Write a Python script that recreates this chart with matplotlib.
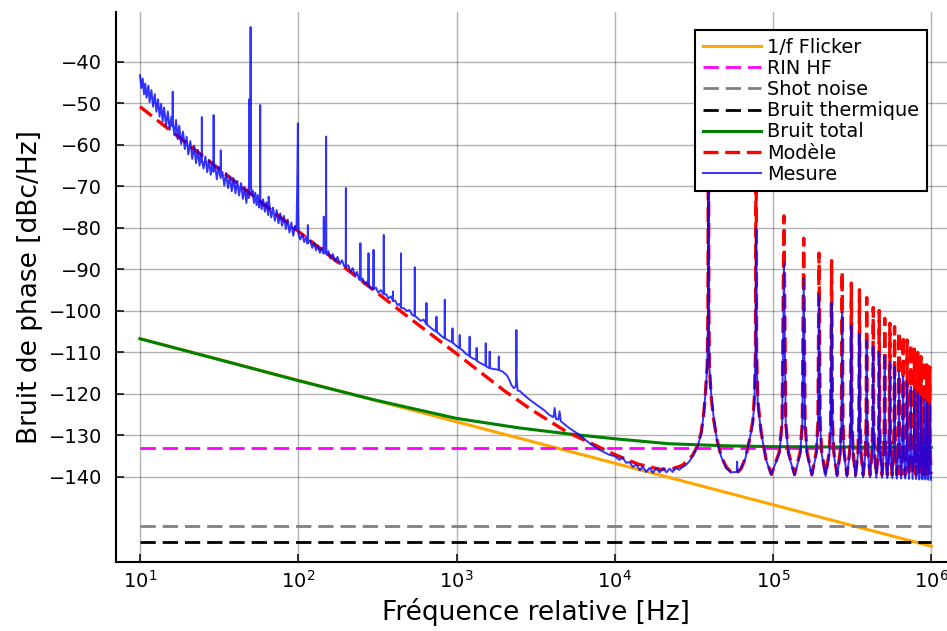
import matplotlib.pyplot as plt
from matplotlib.ticker import NullLocator

# --- bruits théoriques ---
f_lim = [10, 1e6]
flicker_db = [-106.7, -156.7]
rin_db = [-133.1, -133.1]
shot_db = [-151.7, -151.7]
therm_db = [-155.6, -155.6]

total_f = [10, 30, 100, 300, 1000, 2500, 5000, 10000, 22000, 50000, 100000, 1e6]
total_db = [-106.7, -111.5, -116.8, -121.4, -125.9, -128.2, -129.6, -130.8, -132.0, -132.5, -132.7, -132.9]

# --- modèle, partie basse fréquence + deux premières résonances ---
mod_f = [10, 20, 50, 100, 200, 500, 1000, 2000, 3000, 5000,
         7000, 10000, 14000, 19500, 23200, 26800, 31000, 33300, 35200, 36500,
         37400, 38400, 38800, 39060, 39300, 39600, 40600, 42100, 44200, 47000,
         50600, 54400, 58600, 62800, 66900, 70900, 74500, 76300, 77500, 78100,
         78700, 80100, 84100, 90400, 97700]
mod_db = [-50.8, -59.8, -71.8, -80.8, -89.8, -101.6, -110.3, -119.2, -123.9, -129.2,
          -131.8, -134.6, -136.9, -138.2, -138.0, -137.2, -134.8, -132.5, -129.2, -124.7,
          -119.8, -113.0, -100.0, -50.0, -100.0, -113.0, -120.5, -126.0, -131.0, -135.0,
          -137.6, -138.8, -139.2, -138.0, -135.5, -131.2, -126.5, -120.5, -110.0, -50.0,
          -110.0, -121.5, -129.2, -135.8, -139.4]

# --- mesure 10 Hz - 100 Hz ---
mes1_f = [10.0, 10.2, 10.4, 10.6, 10.8, 11.0, 11.3, 11.5, 11.8, 12.1, 12.4, 12.7, 13.0, 13.3, 13.6,
          13.9, 14.2, 14.6, 15.0, 15.4, 15.8, 16.05, 16.1, 16.15, 16.5, 16.9, 17.3, 17.7, 18.2, 18.7,
          19.2, 19.7, 20.2, 20.8, 21.4, 22.0, 22.6, 23.2, 23.8, 24.3, 24.55, 24.6, 24.65, 25.2, 25.9,
          26.6, 27.3, 28.0, 28.7, 29.15, 29.2, 29.25, 29.9, 30.6, 31.4, 32.35, 32.4, 32.45, 33.2, 34.1,
          35.0, 36.0, 37.0, 38.0, 39.0, 40.1, 41.2, 42.3, 43.5, 44.7, 45.9, 47.0, 48.0, 48.8, 49.0,
          49.2, 49.6, 49.8, 50.0, 50.2, 50.6, 51.5, 52.5, 53.5, 54.5, 55.5, 56.5, 57.4, 57.5, 57.6,
          58.7, 60.0, 61.5, 63.0, 64.5, 65.0, 66.0, 67.5, 69.3, 71.2, 73.0, 75.0, 77.0, 79.0, 81.2,
          83.5, 85.8, 88.0, 90.5, 93.0, 95.5, 97.5, 98.5, 99.5, 100.0, 100.5]
mes1_db = [-43.2, -46.3, -44.0, -47.8, -45.2, -48.6, -45.7, -49.7, -46.8, -50.8,
           -47.8, -52.0, -49.0, -53.2, -50.1, -54.3, -51.0, -55.4, -52.0, -56.4,
           -53.2, -55.5, -47.2, -55.0, -57.6, -54.0, -58.6, -55.4, -59.8, -56.8,
           -61.0, -58.0, -62.3, -59.1, -63.4, -60.2, -64.4, -61.2, -65.0, -62.2,
           -64.0, -53.3, -63.8, -65.7, -62.8, -66.6, -63.6, -67.2, -64.2, -66.5,
           -52.8, -66.0, -65.2, -68.3, -65.3, -68.0, -61.3, -67.5, -66.5, -69.8,
           -66.8, -70.4, -67.6, -71.2, -68.0, -71.7, -68.7, -72.2, -69.2, -73.0,
           -70.2, -74.0, -70.7, -72.8, -49.0, -70.5, -66.0, -70.0, -31.6, -69.0,
           -72.0, -71.0, -74.0, -71.5, -74.5, -72.1, -75.1, -73.5, -50.4, -73.0,
           -75.5, -73.1, -76.1, -73.8, -76.9, -72.5, -75.0, -77.5, -75.1, -78.3,
           -75.7, -78.9, -76.5, -79.5, -77.1, -80.3, -78.0, -81.1, -78.7, -81.9,
           -79.5, -80.0, -70.0, -54.8, -75.0, -81.6]

# --- mesure 100 Hz - 2.5 kHz ---
mes2_f = [103, 106, 109, 112, 114.5, 115, 115.5, 119, 122.5, 126, 129.5, 133, 137, 141, 144.5,
          145, 145.5, 149.5, 150, 150.5, 155, 160, 165, 171, 177, 183, 189, 195, 199.5, 200,
          200.5, 207, 214, 221, 228, 235, 242, 246.5, 247, 247.5, 255, 263, 271, 277.5, 278,
          278.5, 288, 298.5, 299, 299.5, 310, 320, 333, 346.5, 347, 347.5, 360, 372, 385, 396.5,
          397, 397.5, 410, 423, 436, 445.5, 446, 446.5, 465, 485, 505, 525, 544.5, 545, 545.5,
          570, 595, 620, 645.5, 646, 646.5, 675, 705, 746.5, 747, 747.5, 780, 810, 842.5, 843,
          843.5, 880, 942.5, 943, 943.5, 995, 1047.5, 1048, 1048.5, 1100, 1150, 1209, 1210, 1211, 1275,
          1339, 1340, 1341, 1420, 1529, 1530, 1531, 1619, 1620, 1621, 1720, 1849, 1850, 1851, 1950,
          2070, 2150, 2220, 2300, 2370, 2385, 2390, 2400, 2430]
mes2_db = [-82.8, -81.5, -83.4, -82.2, -83.8, -79.3, -83.5, -83.0, -84.8, -83.6, -85.4, -84.2, -86.0, -84.8, -86.2,
           -77.3, -86.0, -86.0, -58.0, -86.4, -85.6, -87.4, -86.3, -88.0, -87.0, -88.7, -87.8, -89.2, -89.5, -70.4,
           -89.3, -89.0, -90.6, -89.7, -91.5, -90.6, -92.4, -92.5, -83.7, -92.6, -92.2, -93.6, -93.0, -94.0, -86.1,
           -94.0, -94.5, -94.6, -85.3, -94.8, -94.4, -95.6, -95.0, -96.0, -81.7, -96.0, -96.0, -97.0, -96.5, -97.6,
           -95.3, -97.6, -97.5, -98.6, -98.3, -99.2, -86.1, -99.2, -99.4, -100.0, -99.8, -101.0, -101.2, -89.5, -101.2,
           -101.8, -102.4, -102.1, -103.2, -98.1, -103.2, -103.8, -104.4, -105.0, -101.4, -105.0, -105.6, -106.2, -106.6, -97.3,
           -106.6, -107.0, -107.6, -104.2, -107.6, -108.4, -109.0, -105.8, -109.0, -109.6, -110.4, -110.8, -106.2, -111.0, -111.5,
           -111.8, -108.9, -112.0, -112.6, -113.2, -107.8, -113.3, -113.8, -109.8, -113.8, -114.0, -114.2, -111.0, -114.2, -114.6,
           -115.4, -116.5, -117.8, -118.6, -118.2, -112.0, -104.6, -116.0, -119.2]

# --- mesure 2.5 kHz - 100 kHz (deux premières résonances) ---
mes3_f = [2510, 2700, 2900, 3100, 3350, 3600, 3870, 4100, 4170, 4250, 4400, 4480, 4560, 5190, 6000,
          6940, 8020, 9270, 10000, 10700, 11200, 11800, 12400, 13000, 13700, 14400, 15000, 15800, 16600, 17400,
          18300, 19200, 20200, 21200, 22200, 23200, 24300, 25500, 26800, 28000, 29500, 31000, 33300, 35200, 36500,
          37400, 38400, 38800, 39060, 39300, 39600, 40600, 42100, 44200, 47000, 50600, 54400, 59000, 59300, 59600,
          62800, 66900, 70900, 74500, 76300, 77500, 78100, 78700, 80100, 84100, 90400, 97200]
mes3_db = [-119.3, -120.4, -121.4, -122.2, -123.1, -124.0, -125.1, -125.6, -123.4, -126.0, -126.2, -124.2, -126.6, -128.3, -129.9,
           -131.9, -133.5, -134.7, -135.0, -135.9, -135.3, -136.6, -136.4, -137.6, -137.0, -138.4, -137.5, -138.8, -137.8, -139.0,
           -137.9, -138.9, -137.9, -138.9, -138.0, -138.8, -137.8, -138.3, -137.6, -137.2, -136.3, -135.1, -132.7, -129.5, -124.7,
           -119.8, -113.4, -100.0, -55.0, -100.0, -113.4, -119.8, -125.5, -131.1, -135.1, -137.9, -138.9, -138.8, -136.3, -138.8,
           -137.9, -135.5, -131.1, -127.1, -121.4, -110.0, -80.0, -110.0, -122.4, -129.4, -135.9, -139.4]

# --- résonances n = 3 ... 25 (pics, creux, flancs) ---
pic_f = [117.2e3, 156.2e3, 195.3e3, 234.4e3, 273.4e3, 312.5e3, 351.6e3, 390.6e3, 429.7e3, 468.8e3, 507.8e3, 546.9e3,
         585.9e3, 625.0e3, 664.1e3, 703.1e3, 742.2e3, 781.2e3, 820.3e3, 859.4e3, 898.4e3, 937.5e3, 976.6e3]
pic_mod_db = [-77.1, -82.5, -86.1, -87.9, -90.5, -93.3, -94.9, -96.8, -99.2, -99.9, -101.8, -103.0,
              -103.8, -105.0, -106.0, -107.0, -108.0, -109.2, -110.0, -111.0, -112.0, -113.0, -113.5]
pic_mes_db = [-88.5, -92.1, -96.1, -98.0, -100.2, -103.4, -105.4, -107.0, -108.6, -109.8, -111.0, -112.2,
              -113.4, -114.6, -115.8, -117.0, -118.2, -119.0, -119.8, -120.6, -121.3, -122.0, -122.5]
creux_f = [136.7e3, 175.8e3, 214.8e3, 253.9e3, 293.0e3, 332.0e3, 371.1e3, 410.2e3, 449.2e3, 488.3e3, 527.3e3, 566.4e3,
           605.5e3, 644.5e3, 683.6e3, 722.7e3, 761.7e3, 800.8e3, 839.8e3, 878.9e3, 918.0e3, 957.0e3, 996.1e3]
creux_mod_db = [-139.4, -139.4, -139.5, -139.5, -139.5, -139.5, -139.5, -139.5, -139.5, -139.5, -139.5, -139.5,
                -139.5, -139.5, -139.5, -139.5, -139.5, -139.5, -139.4, -139.4, -139.4, -139.3, -139.3]
creux_mes_db = [-139.6, -139.7, -139.8, -139.9, -140.0, -140.0, -140.1, -140.1, -140.2, -140.2, -140.3, -140.3,
                -140.4, -140.4, -140.4, -140.5, -140.5, -140.5, -140.6, -140.6, -140.6, -140.7, -140.7]
flanc_df = [7.8e3, 3.1e3]
flanc_mod_db = [-134.0, -127.0]
flanc_mes_db = [-134.5, -127.5]


def resonances(pic_db, creux_db, flanc_db):
    f, d = [], []
    for fp, dp, fc, dc in zip(pic_f, pic_db, creux_f, creux_db):
        for df, dd in zip(flanc_df, flanc_db):
            f.append(fp - df)
            d.append(dd)
        f.append(fp)
        d.append(dp)
        for df, dd in zip(flanc_df[::-1], flanc_db[::-1]):
            f.append(fp + df)
            d.append(dd)
        f.append(fc)
        d.append(dc)
    return f, d


res_mod_f, res_mod_db = resonances(pic_mod_db, creux_mod_db, flanc_mod_db)
res_mes_f, res_mes_db = resonances(pic_mes_db, creux_mes_db, flanc_mes_db)

modele_f = mod_f + res_mod_f
modele_db = mod_db + res_mod_db
mesure_f = mes1_f + mes2_f + mes3_f + res_mes_f
mesure_db = mes1_db + mes2_db + mes3_db + res_mes_db

# --- figure ---
fig = plt.figure(figsize=(9.47, 6.31), dpi=100)
ax = fig.add_axes([0.1225, 0.1093, 0.886, 0.8716])

dash = (5.5, 2.5)
ax.plot(f_lim, flicker_db, color='orange', lw=2.2, label='1/f Flicker')
ax.plot(f_lim, rin_db, color='magenta', lw=2.0, dashes=dash, label='RIN HF')
ax.plot(f_lim, shot_db, color='gray', lw=2.0, dashes=dash, label='Shot noise')
ax.plot(f_lim, therm_db, color='black', lw=2.0, dashes=dash, label='Bruit thermique')
ax.plot(total_f, total_db, color='green', lw=2.2, label='Bruit total')
ax.plot(modele_f, modele_db, color='red', lw=2.4, dashes=(4.5, 2.0), label='Modèle')
ax.plot(mesure_f, mesure_db, color='blue', lw=1.4, alpha=0.8, label='Mesure')

ax.set_xscale('log')
ax.set_xlim(10 ** 0.8485, 10 ** 6.15)
ax.set_ylim(-160.5, -28)
ax.set_xticks([1e1, 1e2, 1e3, 1e4, 1e5, 1e6])
ax.xaxis.set_minor_locator(NullLocator())
ax.set_yticks([-40, -50, -60, -70, -80, -90, -100, -110, -120, -130, -140])

ax.grid(True, color='black', alpha=0.3, lw=1.0)
ax.set_axisbelow(True)
for s in ['top', 'right']:
    ax.spines[s].set_visible(False)
for s in ['left', 'bottom']:
    ax.spines[s].set_linewidth(1.5)
ax.tick_params(direction='in', length=6, width=1.1, labelsize=14)
ax.tick_params(axis='y', pad=10)
ax.tick_params(axis='x', pad=6)

ax.set_xlabel('Fréquence relative [Hz]', fontsize=19)
ax.set_ylabel('Bruit de phase [dBc/Hz]', fontsize=19)

leg = ax.legend(loc='upper right', bbox_to_anchor=(0.9666, 0.967), borderaxespad=0,
                fontsize=13.9, fancybox=False, framealpha=1, edgecolor='black',
                handlelength=3.0, handletextpad=0.35, labelspacing=0.11, borderpad=0.4)
leg.get_frame().set_linewidth(1.5)

fig.savefig('out.png', dpi=100)
